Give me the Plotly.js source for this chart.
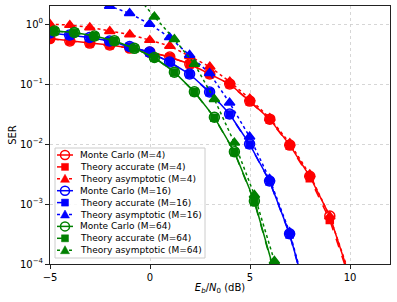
<!DOCTYPE html>
<html>
<head>
<meta charset="utf-8">
<script src="https://cdn.plot.ly/plotly-3.0.1.min.js"></script>
<style>html,body{margin:0;padding:0;background:#fff;}#chart{width:397px;height:302px;}</style>
</head>
<body>
<div id="chart"></div>
<script>
// Eb/N0 (dB) sample positions per modulation order
var xM4  = [-5.01,-4.01,-3.01,-2.01,-1.01,-0.01,0.99,1.99,2.99,3.99,4.99,5.99,6.99,7.99,8.99,9.99];
var xM16 = [-5.02,-4.02,-3.02,-2.02,-1.02,-0.02,0.98,1.98,2.98,3.98,4.98,5.98,6.98,7.98];
var xM64 = [-4.78,-3.78,-2.78,-1.78,-0.78,0.22,1.22,2.22,3.22,4.22,5.22,6.22];

// SER values
var mcM4    = [0.573,0.521,0.482,0.447,0.398,0.341,0.282,0.216,0.147,0.100,0.052,0.026,0.0096,0.0029,6.3e-4,6.0e-5];
var accM4   = [0.570,0.520,0.480,0.445,0.397,0.340,0.280,0.214,0.146,0.099,0.051,0.0255,0.0094,0.0027,5.4e-4,5.5e-5];
var asyM4   = [1.0,0.96,0.88,0.76,0.67,0.54,0.43,0.29,0.194,0.109,0.057,0.027,0.0103,0.0031,6.2e-4,6.5e-5];

var mcM16   = [0.708,0.656,0.596,0.521,0.422,0.341,0.233,0.147,0.0736,0.0316,0.0100,0.00242,3.2e-4,2.0e-5];
var accM16  = [0.705,0.653,0.594,0.519,0.420,0.339,0.231,0.145,0.0728,0.0312,0.0098,0.00238,3.1e-4,1.9e-5];
var asyM16  = [3.3,2.8,2.4,2.0,1.51,1.0,0.60,0.304,0.151,0.0488,0.0132,0.00261,3.4e-4,2.1e-5];

var mcM64   = [0.765,0.722,0.631,0.527,0.394,0.277,0.158,0.0744,0.0279,0.00744,0.00112,7.4e-5];
var accM64  = [0.762,0.720,0.628,0.524,0.392,0.275,0.156,0.0736,0.0275,0.0073,0.00108,7.0e-5];
var asyM64  = [12,9,6.5,4.7,3.3,1.32,0.556,0.216,0.0556,0.0105,0.00141,1.12e-4];

var xTicks = [-5,0,5,10];
var xTickText = ['\u22125','0','5','10'];
var yTicks = [1e-4,1e-3,1e-2,1e-1,1];
var yTickText = ['10<sup>\u22124</sup>','10<sup>\u22123</sup>','10<sup>\u22122</sup>','10<sup>\u22121</sup>','10<sup>0</sup>'];

var orders = [4, 16, 64];
var colors = ['#ff0000', '#0000ff', '#008000'];
var kinds = [
  {label:'Monte Carlo', dash:'solid', symbol:'circle-open', size:10},
  {label:'Theory accurate', dash:'dash', symbol:'square', size:7},
  {label:'Theory asymptotic', dash:'dot', symbol:'triangle-up', size:9}
];
var groups = [
  {x:xM4,  ys:[mcM4,  accM4,  asyM4]},
  {x:xM16, ys:[mcM16, accM16, asyM16]},
  {x:xM64, ys:[mcM64, accM64, asyM64]}
];

var traces = [];
groups.forEach(function(g, gi){
  kinds.forEach(function(k, ki){
    traces.push({x:g.x, y:g.ys[ki], type:'scatter', mode:'lines+markers',
      name:k.label+' (M='+orders[gi]+')', showlegend:false, hoverinfo:'skip',
      line:{color:colors[gi], width:1.5, dash:k.dash},
      marker:{symbol:k.symbol, size:k.size, color:colors[gi], line:{width:1.5, color:colors[gi]}}});
  });
});
// invisible anchor trace so the pixel-mapped overlay axes exist
traces.push({x:[50], y:[264], xaxis:'x2', yaxis:'y2', type:'scatter', mode:'markers',
  marker:{size:1, opacity:0}, showlegend:false, hoverinfo:'skip'});

// Custom compact legend in a pixel-mapped overlay (x2: 50..390 px, y2: 264..6 px)
var font = 'DejaVu Sans, sans-serif';
var shapes = [{type:'rect', xref:'x2', yref:'y2', x0:55, x1:205, y0:148, y1:258,
  fillcolor:'rgba(255,255,255,0.85)', line:{color:'#cccccc', width:1}, layer:'above'}];
var annotations = [];
var row = 0;
orders.forEach(function(M, gi){
  kinds.forEach(function(k, ki){
    var yc = 155 + row*11.9;
    var c = colors[gi];
    shapes.push({type:'line', xref:'x2', yref:'y2', x0:57, x1:73, y0:yc, y1:yc,
      line:{color:c, width:1.5, dash:k.dash}, layer:'above'});
    if (ki === 0) {
      shapes.push({type:'circle', xref:'x2', yref:'y2', x0:60.5, x1:69.5, y0:yc-4.5, y1:yc+4.5,
        fillcolor:'rgba(255,255,255,0)', line:{color:c, width:1.5}, layer:'above'});
    } else if (ki === 1) {
      shapes.push({type:'rect', xref:'x2', yref:'y2', x0:61.5, x1:68.5, y0:yc-3.5, y1:yc+3.5,
        fillcolor:c, line:{color:c, width:0.5}, layer:'above'});
    } else {
      shapes.push({type:'path', xref:'x2', yref:'y2',
        path:'M60.5,'+(yc+3.5)+' L69.5,'+(yc+3.5)+' L65,'+(yc-4.5)+' Z',
        fillcolor:c, line:{color:c, width:0.5}, layer:'above'});
    }
    annotations.push({xref:'x2', yref:'y2', x:77.5, y:yc, xanchor:'left', yanchor:'middle',
      text:k.label+' (M='+M+')', showarrow:false, font:{family:font, size:9, color:'#000'}});
    row++;
  });
});

var layout = {
  width:397, height:302,
  margin:{l:50, r:7, t:6, b:38, pad:0},
  paper_bgcolor:'#ffffff', plot_bgcolor:'#ffffff',
  font:{family:font, size:10, color:'#000'},
  showlegend:false,
  shapes:shapes, annotations:annotations,
  xaxis:{range:[-5,12], tickmode:'array', tickvals:xTicks, ticktext:xTickText,
    showgrid:true, gridcolor:'#cccccc', griddash:'dot', gridwidth:0.8, zeroline:false,
    showline:true, mirror:true, linecolor:'#222', linewidth:1,
    ticks:'outside', ticklen:4, tickcolor:'#222', automargin:false,
    tickfont:{family:font, size:10, color:'#000'},
    title:{text:'<i>E</i><sub><i>b</i></sub>/<i>N</i><sub>0</sub> (dB)', font:{family:font, size:10, color:'#000'}, standoff:1}},
  yaxis:{type:'log', range:[-4, 0.301], tickmode:'array', tickvals:yTicks, ticktext:yTickText,
    showgrid:true, gridcolor:'#cccccc', griddash:'dot', gridwidth:0.8, zeroline:false,
    showline:true, mirror:true, linecolor:'#222', linewidth:1,
    ticks:'outside', ticklen:4, tickcolor:'#222', automargin:false,
    tickfont:{family:font, size:10, color:'#000'},
    title:{text:'SER', font:{family:font, size:10, color:'#000'}, standoff:1}},
  xaxis2:{overlaying:'x', anchor:'y2', range:[50,390], visible:false, fixedrange:true},
  yaxis2:{overlaying:'y', anchor:'x2', range:[264,6], visible:false, fixedrange:true}
};

Plotly.newPlot('chart', traces, layout, {displayModeBar:false, staticPlot:true});
</script>
</body>
</html>
